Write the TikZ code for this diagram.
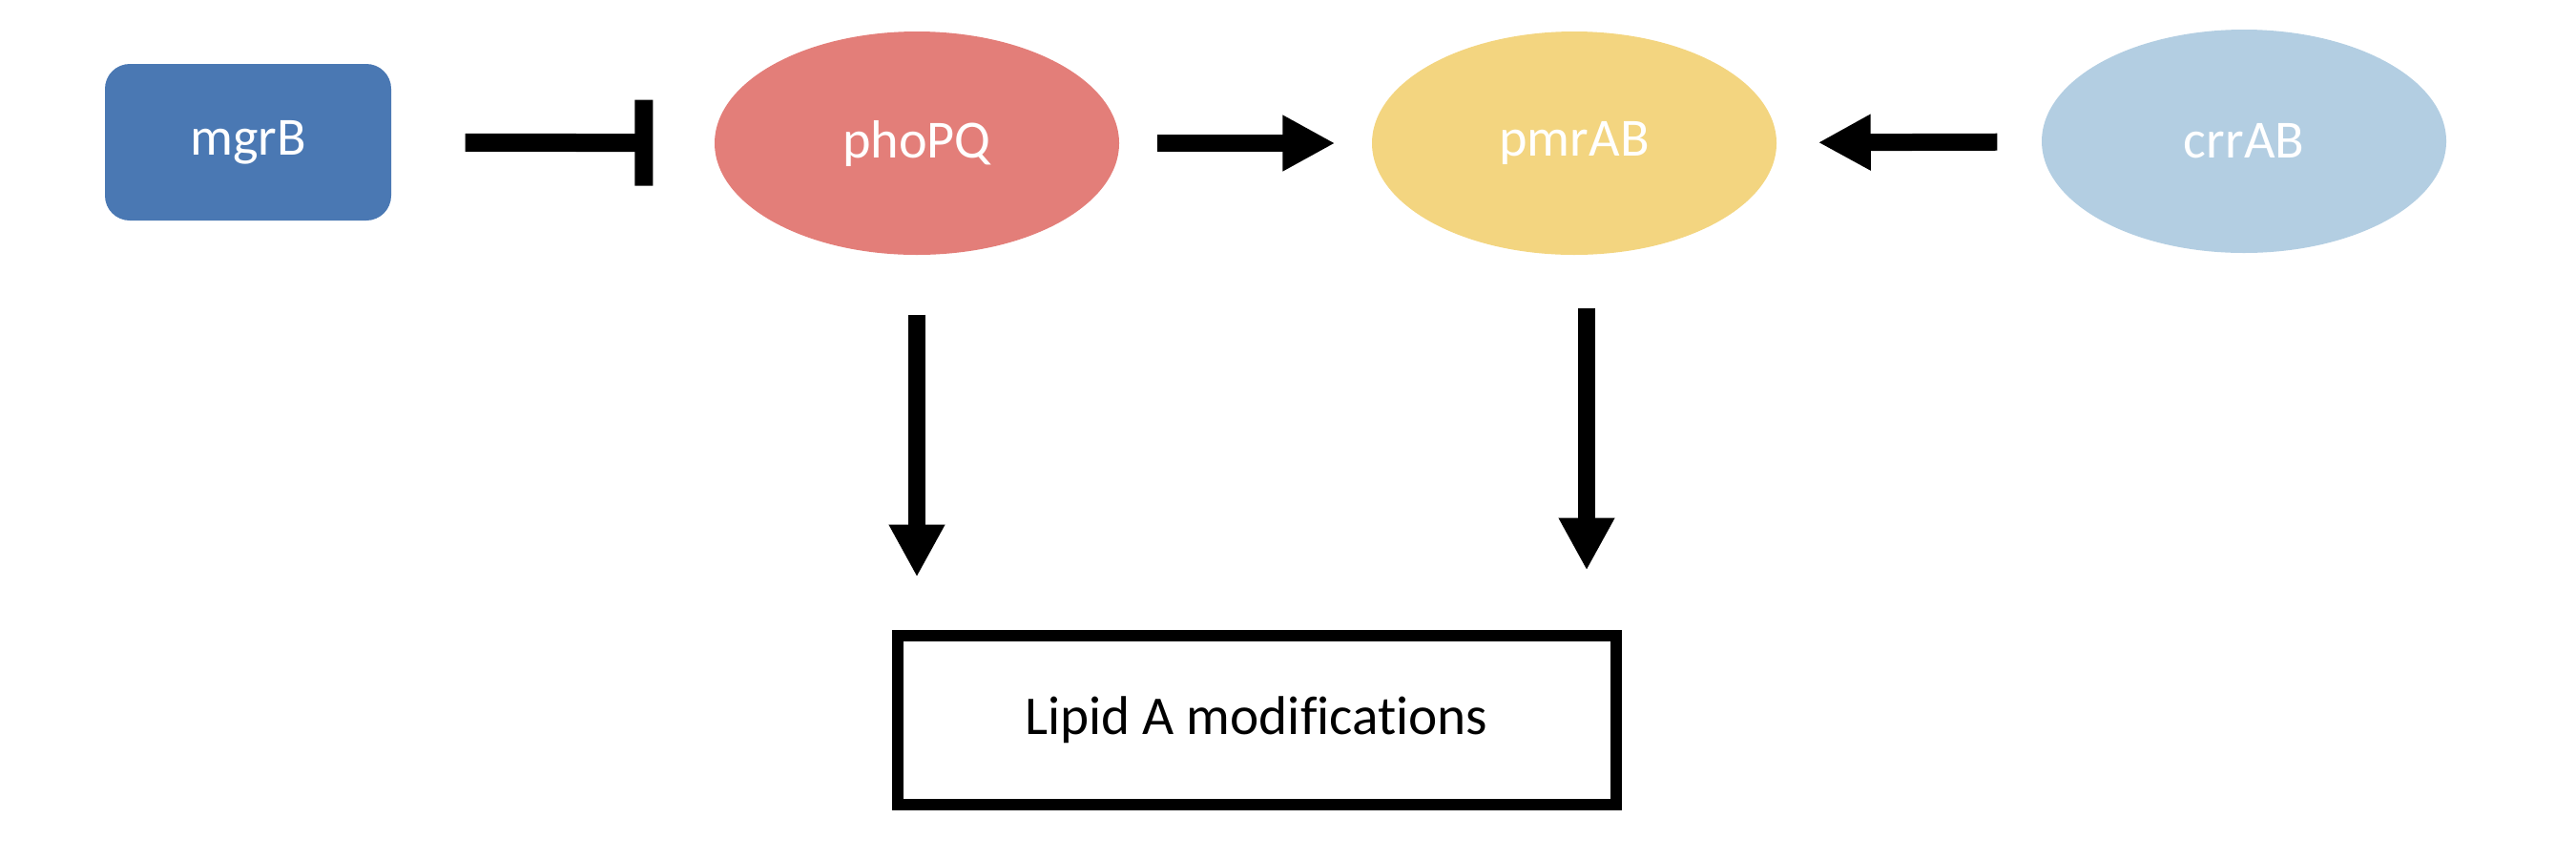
\documentclass[tikz,border=0pt]{standalone}
\usepackage{fontspec}
\setmainfont[Ligatures=NoCommon]{Carlito}
\usepackage{tikz}
\usepackage{xcolor}
\definecolor{genblue}{RGB}{74, 120, 179}
\definecolor{genred}{RGB}{227, 126, 121}
\definecolor{genyellow}{RGB}{243, 213, 128}
\definecolor{genlight}{RGB}{179, 206, 226}
\usetikzlibrary{shapes.geometric,calc,arrows.meta}

\begin{document}
\begin{tikzpicture}[
    gene/.style={ellipse, draw=none, text=white, minimum width=4.24cm, minimum height=2.34cm, inner sep=0pt, font=\fontsize{16}{19}\selectfont},
    act/.style={line width=0.18cm, -{Triangle[length=0.55cm, width=0.55cm]}},
    inhib/.style={line width=0.19cm, -{Bar[width=0.9cm]}}
]
    \useasboundingbox (0, 0) rectangle (27, -9);

    % Regulators
    \node[draw=none, fill=genblue, rounded corners=0.26cm, text=white, minimum width=3cm, minimum height=1.64cm, font=\fontsize{16}{19}\selectfont] (mgrB) at (2.60, -1.49) {mgrB};
    \node[gene, fill=genred] (phoPQ) at (9.61, -1.50) {phoPQ};
    \node[gene, fill=genyellow] (pmrAB) at (16.50, -1.50) {pmrAB};
    \node[gene, fill=genlight] (crrAB) at (23.52, -1.48) {crrAB};

    % Output
    \node[draw, line width=0.12cm, rectangle, minimum width=7.53cm, minimum height=1.77cm, font=\fontsize{16.3}{19}\selectfont] (lipid) at (13.17, -7.54) {Lipid A modifications};

    % Interactions
    \draw[inhib, shorten <=0.77cm, shorten >=0.64cm] (mgrB) -- (phoPQ);
    \draw[act, shorten <=0.39cm, shorten >=0.38cm] (phoPQ) -- (pmrAB);
    \draw[act, shorten <=0.46cm, shorten >=0.43cm] (crrAB) -- (pmrAB);

    % Towards lipid A
    \draw[act, shorten <=0.62cm, shorten >=0.55cm] (phoPQ.south) -- (phoPQ.south |- lipid.north);
    \draw[act, shorten <=0.55cm, shorten >=0.62cm] ([xshift=0.13cm]pmrAB.south) -- ([xshift=0.13cm]pmrAB.south |- lipid.north);
\end{tikzpicture}
\end{document}
